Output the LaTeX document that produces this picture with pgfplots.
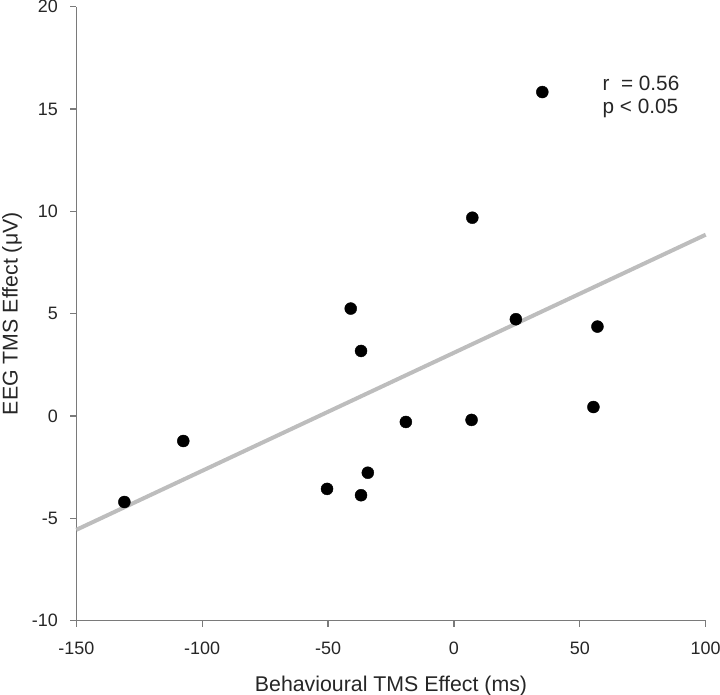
\documentclass[border=0pt]{standalone}
\usepackage{fontspec}
\setmainfont{Liberation Sans}
\usepackage{pgfplots}
\pgfplotsset{compat=1.18}
\definecolor{axgray}{HTML}{7A7A7A}
\definecolor{fitgray}{HTML}{BDBDBD}
\begin{document}
\begin{tikzpicture}
\useasboundingbox (-76.3bp,-74.3bp) rectangle (643.7bp,620.7bp);
\begin{axis}[
  at={(0,0)}, anchor=south west,
  scale only axis, width=629.4bp, height=614bp,
  xmin=-150, xmax=100, ymin=-10, ymax=20,
  axis lines*=left,
  axis line style={draw=axgray, line width=1.2bp, -},
  xtick={-150,-100,-50,0,50,100}, xticklabels={-150,-100,-50,0,50,100},
  ytick={-10,-5,0,5,10,15,20}, yticklabels={-10,-5,0,5,10,15,20},
  tick align=outside, major tick length=6bp,
  tick style={draw=axgray, line width=1.3bp, solid},
  ticklabel style={font=\fontsize{18}{21}\selectfont, text=black!85, inner sep=0pt},
  xticklabel style={anchor=north, yshift=-15bp},
  yticklabel style={anchor=east, xshift=-12.3bp},
  xlabel={Behavioural TMS Effect (ms)},
  ylabel={EEG TMS Effect (μV)},
  xlabel style={font=\fontsize{21.4}{25}\selectfont, text=black!85, at={(axis description cs:0.5,-0.090)}, anchor=north, inner sep=0pt},
  ylabel style={font=\fontsize{21.4}{25}\selectfont, text=black!85, at={(axis description cs:-0.118,0.5)}, anchor=north, inner sep=0pt},
  clip=false,
]
\addplot[fitgray, line width=4bp, no markers] coordinates {(-150,-5.56) (100,8.86)};
\addplot[only marks, mark=*, mark size=6bp, black] coordinates {
(-130.9,-4.20) (-107.5,-1.22) (-50.4,-3.56) (-41.0,5.25) (-36.9,3.18)
(-36.9,-3.87) (-34.2,-2.77) (-19.1,-0.29) (7.0,-0.19) (7.3,9.69)
(24.6,4.73) (35.1,15.83) (55.4,0.44) (57.0,4.37)
};
\node[anchor=west, align=left, font=\fontsize{20.8}{23}\selectfont, text=black!85, inner sep=0pt] at (axis cs:59,15.6) {r\ \ = 0.56\\p < 0.05};
\end{axis}
\end{tikzpicture}
\end{document}
